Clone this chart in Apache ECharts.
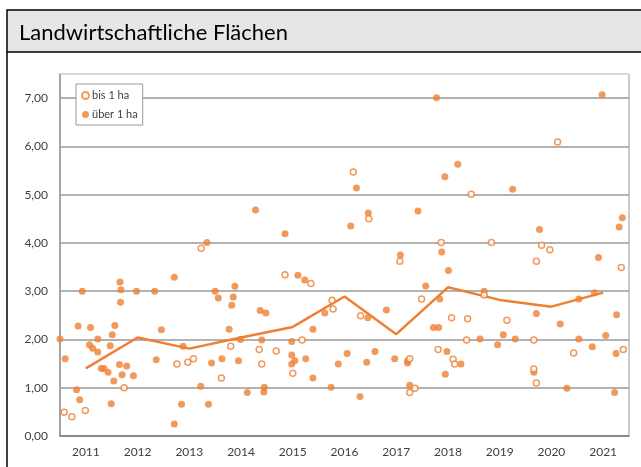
<!DOCTYPE html>
<html>
<head>
<meta charset="utf-8">
<script src="https://cdn.jsdelivr.net/npm/echarts@6/dist/echarts.min.js"></script>
<style>
  html, body { margin: 0; padding: 0; background: #fff; }
  #chart { width: 641px; height: 467px; }
</style>
</head>
<body>
<div id="chart"></div>
<script>
// Jahre fuer die Trendlinie und die Achsenbeschriftung
const jahre = [2011, 2012, 2013, 2014, 2015, 2016, 2017, 2018, 2019, 2020, 2021];
const trend = [1.40, 2.04, 1.81, 2.04, 2.26, 2.89, 2.11, 3.08, 2.82, 2.68, 2.97];

// Einzelwerte bis 1 ha: [Zeitpunkt, Wert]
const bis1ha = [
  [2010.58, 0.49], [2010.73, 0.40], [2010.99, 0.53], [2011.74, 1.00],
  [2012.76, 1.49], [2012.97, 1.53], [2013.08, 1.60], [2013.23, 3.89],
  [2013.62, 1.20], [2013.80, 1.86], [2014.35, 1.79], [2014.40, 1.49],
  [2014.68, 1.76], [2014.85, 3.34], [2015.00, 1.30], [2015.18, 1.99],
  [2015.35, 3.16], [2015.76, 2.81], [2015.78, 2.63], [2016.17, 5.47],
  [2016.31, 2.49], [2016.47, 4.50], [2017.07, 3.62], [2017.26, 1.60],
  [2017.26, 0.90], [2017.36, 0.99], [2017.49, 2.84], [2017.81, 1.79],
  [2017.87, 4.01], [2018.07, 2.45], [2018.10, 1.59], [2018.13, 1.49],
  [2018.36, 1.99], [2018.38, 2.43], [2018.45, 5.01], [2018.70, 2.92],
  [2018.84, 4.01], [2019.14, 2.40], [2019.66, 1.99], [2019.66, 1.39],
  [2019.71, 1.10], [2019.71, 3.62], [2019.81, 3.95], [2019.97, 3.86],
  [2020.12, 6.09], [2020.43, 1.72], [2021.35, 3.49], [2021.39, 1.79]
];

// Einzelwerte ueber 1 ha
const ueber1ha = [
  [2010.50, 2.01], [2010.60, 1.60], [2010.82, 0.96], [2010.85, 2.28],
  [2010.88, 0.75], [2010.93, 3.00], [2011.07, 1.89], [2011.09, 2.25],
  [2011.13, 1.82], [2011.23, 2.01], [2011.23, 1.74], [2011.30, 1.40],
  [2011.35, 1.40], [2011.43, 1.32], [2011.47, 1.87], [2011.49, 0.67],
  [2011.51, 2.10], [2011.54, 1.14], [2011.56, 2.29], [2011.65, 1.48],
  [2011.66, 3.19], [2011.68, 3.03], [2011.67, 2.77], [2011.70, 1.27],
  [2011.79, 1.45], [2011.92, 1.25], [2011.98, 3.00], [2012.33, 3.00],
  [2012.36, 1.58], [2012.46, 2.20], [2012.71, 3.29], [2012.71, 0.25],
  [2012.85, 0.66], [2012.88, 1.86], [2013.22, 1.03], [2013.34, 4.01],
  [2013.37, 0.66], [2013.43, 1.51], [2013.50, 3.00], [2013.56, 2.86],
  [2013.63, 1.60], [2013.77, 2.21], [2013.82, 2.71], [2013.85, 2.88],
  [2013.88, 3.10], [2013.95, 1.56], [2013.99, 2.00], [2014.12, 0.90],
  [2014.28, 4.68], [2014.37, 2.60], [2014.40, 1.99], [2014.44, 0.91],
  [2014.45, 1.01], [2014.48, 2.55], [2014.85, 4.19], [2014.98, 1.96],
  [2014.98, 1.68], [2014.98, 1.49], [2015.04, 1.56], [2015.10, 3.33],
  [2015.23, 3.23], [2015.25, 1.60], [2015.39, 2.21], [2015.39, 1.20],
  [2015.62, 2.55], [2015.74, 1.01], [2015.88, 1.49], [2016.05, 1.71],
  [2016.12, 4.35], [2016.23, 5.14], [2016.30, 0.82], [2016.43, 1.53],
  [2016.45, 2.45], [2016.46, 4.62], [2016.59, 1.75], [2016.81, 2.61],
  [2016.97, 1.60], [2017.08, 3.75], [2017.22, 1.56], [2017.22, 1.51],
  [2017.26, 1.05], [2017.42, 4.66], [2017.57, 3.11], [2017.72, 2.25],
  [2017.78, 7.01], [2017.82, 2.25], [2017.84, 2.84], [2017.88, 3.81],
  [2017.94, 5.37], [2017.95, 1.28], [2017.98, 1.75], [2018.01, 3.43],
  [2018.19, 5.63], [2018.25, 1.49], [2018.62, 2.01], [2018.70, 3.00],
  [2018.96, 1.89], [2019.07, 2.10], [2019.25, 5.11], [2019.30, 2.01],
  [2019.66, 1.32], [2019.71, 2.54], [2019.77, 4.28], [2020.17, 2.32],
  [2020.30, 0.99], [2020.53, 2.01], [2020.53, 2.84], [2020.79, 1.85],
  [2020.83, 2.97], [2020.91, 3.70], [2020.98, 7.07], [2021.05, 2.08],
  [2021.22, 0.90], [2021.25, 1.71], [2021.26, 2.51], [2021.31, 4.33],
  [2021.37, 4.52]
];

const orange = '#ef7f33';
const font = 'Lato, "Noto Sans", sans-serif';

const chart = echarts.init(document.getElementById('chart'), null, { renderer: 'canvas' });

chart.setOption({
  animation: false,
  textStyle: { fontFamily: font },
  graphic: [
    { type: 'rect', z: -10, shape: { x: 7, y: 10, width: 700, height: 42 },
      style: { fill: '#e6e6e6', stroke: '#000', lineWidth: 1.5 } },
    { type: 'line', z: -10, shape: { x1: 7, y1: 52, x2: 7, y2: 500 },
      style: { stroke: '#000', lineWidth: 1.5 } }
  ],
  title: {
    text: 'Landwirtschaftliche Flächen',
    left: 14, top: 17,
    textStyle: { fontFamily: font, fontSize: 22, fontWeight: 'normal', color: '#000' }
  },
  legend: {
    orient: 'vertical',
    left: 76, top: 84,
    padding: [6, 5, 5, 5],
    itemGap: 8,
    itemWidth: 7, itemHeight: 7,
    backgroundColor: '#fff',
    borderColor: '#999', borderWidth: 1,
    textStyle: { fontSize: 11, color: '#404040', padding: [0, 0, 0, -2] },
    data: [{ name: 'bis 1 ha', icon: 'circle' }, { name: 'über 1 ha', icon: 'circle' }]
  },
  grid: {
    left: 60, right: 12, top: 74, bottom: 31,
    show: true, borderColor: '#999', borderWidth: 1
  },
  xAxis: {
    type: 'value',
    min: 2010.5, max: 2021.5,
    axisLine: { show: true, lineStyle: { color: '#808080', width: 1.5 } },
    axisTick: { show: false },
    splitLine: { show: false },
    axisLabel: {
      customValues: jahre,
      color: '#404040', fontSize: 12, margin: 10,
      formatter: v => String(v)
    }
  },
  yAxis: {
    type: 'value',
    min: 0, max: 7.5, interval: 1,
    axisLine: { show: true, lineStyle: { color: '#999', width: 1.5 } },
    axisTick: { show: false },
    splitLine: {
      show: true,
      lineStyle: {
        color: ['#999', '#999', '#999', '#999', '#999', '#999', '#999', '#999', '#dedede'],
        width: 1.5
      }
    },
    axisLabel: {
      showMaxLabel: false,
      color: '#404040', fontSize: 12, margin: 12,
      formatter: v => Number.isInteger(v) ? v.toFixed(2).replace('.', ',') : ''
    }
  },
  series: [
    {
      name: 'Trend', type: 'line', z: 1,
      data: jahre.map((j, i) => [j, trend[i]]),
      showSymbol: false, symbol: 'none',
      lineStyle: { color: orange, width: 2.5 },
      itemStyle: { color: orange }
    },
    {
      name: 'bis 1 ha', type: 'scatter', z: 3,
      data: bis1ha,
      symbol: 'circle', symbolSize: 6,
      itemStyle: { color: '#fff', borderColor: orange, borderWidth: 1.5 }
    },
    {
      name: 'über 1 ha', type: 'scatter', z: 2,
      data: ueber1ha,
      symbol: 'circle', symbolSize: 7,
      itemStyle: { color: orange }
    }
  ]
});
</script>
</body>
</html>
